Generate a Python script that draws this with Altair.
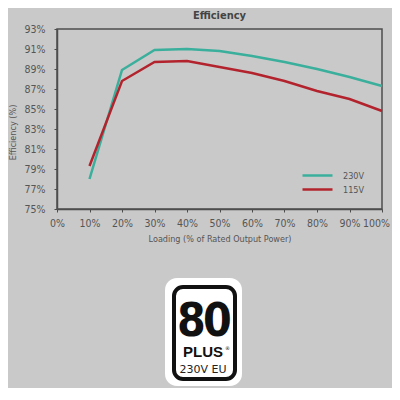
import altair as alt
import pandas as pd

load = [10, 20, 30, 40, 50, 60, 70, 80, 90, 100]
eff_230 = [78.0, 88.9, 90.9, 91.0, 90.8, 90.3, 89.7, 89.0, 88.2, 87.3]
eff_115 = [79.3, 87.8, 89.7, 89.8, 89.2, 88.6, 87.8, 86.8, 86.0, 84.8]
series = ["230V", "115V"]
colors = ["#3aaf9c", "#b3232d"]

FONT = "DejaVu Sans Condensed, Liberation Sans Narrow, Liberation Sans, sans-serif"

df = pd.DataFrame({
    "load": load * 2,
    "eff": eff_230 + eff_115,
    "series": [series[0]] * len(load) + [series[1]] * len(load),
})

lines = alt.Chart(df).mark_line(strokeWidth=2.5).encode(
    x=alt.X("load:Q", scale=alt.Scale(domain=[0, 100], nice=False),
            axis=alt.Axis(values=list(range(0, 101, 10)), labelExpr="datum.value + '%'",
                          title="Loading (% of Rated Output Power)", titlePadding=6,
                          labelPadding=6, labelFlush=False, labelOverlap=False,
                          labelOffset={"condition": {"test": "datum.value == 100", "value": -6},
                                       "value": 0})),
    y=alt.Y("eff:Q", scale=alt.Scale(domain=[75, 93], nice=False, zero=False),
            axis=alt.Axis(values=list(range(75, 94, 2)), labelExpr="datum.value + '%'",
                          title="Efficiency (%)", titleX=-40, titleY=103, labelPadding=9,
                          labelFlush=False, labelOverlap=False)),
    color=alt.Color("series:N", scale=alt.Scale(domain=series, range=colors),
                    legend=alt.Legend(title=None, orient="none", legendX=254, legendY=140,
                                      symbolType="M-3,0H3", symbolSize=100,
                                      symbolStrokeWidth=2.5, labelFontSize=9,
                                      labelColor="#555", rowPadding=2, labelOffset=19,
                                      labelFont=FONT)),
)

# 80 PLUS badge
badge_8 = ["8"]
badge_0 = ["0"]
badge_plus = ["PLUS"]
badge_reg = ["®"]
badge_sub = ["230V EU"]
one = pd.DataFrame({"a": [0]})

outer = alt.Chart(one).mark_rect(fill="white", cornerRadius=12).encode(
    x=alt.value(108), x2=alt.value(185), y=alt.value(249), y2=alt.value(357))
inner = alt.Chart(one).mark_rect(fill="white", stroke="#111", strokeWidth=4, cornerRadius=9).encode(
    x=alt.value(117), x2=alt.value(178), y=alt.value(258), y2=alt.value(350))
big_font = "Liberation Sans Narrow, DejaVu Sans Condensed, sans-serif"
t8 = alt.Chart(pd.DataFrame({"t": badge_8})).mark_text(
    font=big_font, fontWeight="bold", fontSize=46, color="#111",
    baseline="alphabetic", align="center").encode(
    x=alt.value(134.5), y=alt.value(307), text="t:N")
t0 = alt.Chart(pd.DataFrame({"t": badge_0})).mark_text(
    font=big_font, fontWeight="bold", fontSize=46, color="#111",
    baseline="alphabetic", align="center").encode(
    x=alt.value(160.5), y=alt.value(307), text="t:N")
tplus = alt.Chart(pd.DataFrame({"t": badge_plus})).mark_text(
    font="Liberation Sans, Arial, sans-serif", fontWeight="bold",
    fontSize=15, color="#111", baseline="alphabetic", align="center").encode(
    x=alt.value(146), y=alt.value(328), text="t:N")
treg = alt.Chart(pd.DataFrame({"t": badge_reg})).mark_text(
    font="DejaVu Sans, sans-serif", fontSize=5, color="#111",
    baseline="alphabetic", align="left").encode(
    x=alt.value(168), y=alt.value(321), text="t:N")
tsub = alt.Chart(pd.DataFrame({"t": badge_sub})).mark_text(
    font="DejaVu Sans, sans-serif", fontSize=11, color="#222",
    baseline="alphabetic", align="center").encode(
    x=alt.value(146), y=alt.value(344), text="t:N")

chart = alt.layer(lines, outer, inner, t8, t0, tplus, treg, tsub).properties(
    width=325, height=180,
    title=alt.Title("Efficiency", fontSize=11, fontWeight="bold", color="#444",
                    font=FONT, offset=3, anchor="middle"),
    autosize=alt.AutoSizeParams(type="none"),
    padding={"left": 49, "top": 21, "right": 10, "bottom": 179},
).configure(background="#c9c9c9").configure_view(
    stroke="#4d4d4d", strokeWidth=1.5
).configure_axis(
    grid=False, domainColor="#4d4d4d", domainWidth=1.5, tickColor="#4d4d4d",
    tickSize=3, labelColor="#555", labelFont=FONT, labelFontSize=10.5,
    titleFont=FONT, titleFontSize=9, titleColor="#555", titleFontWeight="normal",
)

chart.save("out.html", embed_options={"renderer": "svg", "actions": False})
